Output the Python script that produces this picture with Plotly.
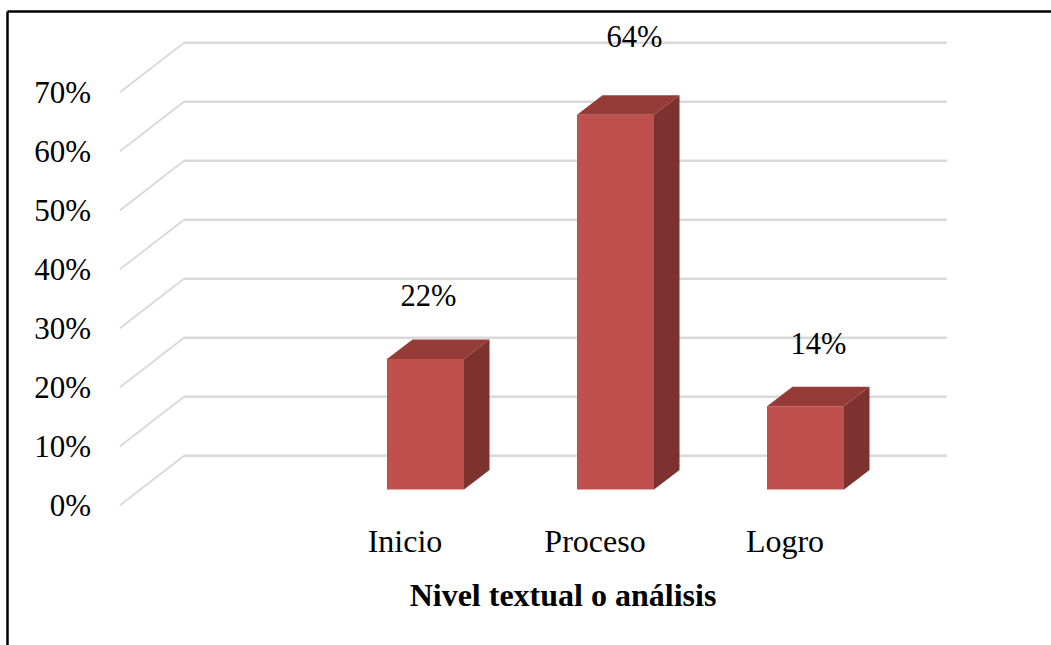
import plotly.graph_objects as go

# --- data ---
categories = ["Inicio", "Proceso", "Logro"]
values = [22.1, 63.5, 14.1]
value_labels = ["22%", "64%", "14%"]
tick_values = [0, 10, 20, 30, 40, 50, 60, 70]
tick_labels = ["0%", "10%", "20%", "30%", "40%", "50%", "60%", "70%"]
axis_title = "Nivel textual o análisis"

# --- geometry (pixels of the 1051x645 page) ---
W, H = 1051, 645
PX_X = 190.0            # pixels per category
PX_Y = 5.9              # pixels per percent
X0_PX = 405.0           # category 0 label centre
Y0_PX = 505.3           # front-plane 0 %
PLOT_L, PLOT_R, PLOT_B = 92.0, 1034.0, 515.0

def ux(px):
    return px / PX_X

def uy(px):
    return px / PX_Y

BAR_SHIFT = ux(20.5)
BAR_W = ux(77)
BAR_BASE = uy(Y0_PX - 489.5)
DEPTH_X = ux(25.5)
DEPTH_Y = uy(19.5)
WALL_DX = ux(64)
WALL_DY = uy(49.5)
WALL_END = (947 - X0_PX) / PX_X
WALL_START = (120 - X0_PX) / PX_X
LABEL_DX_PX = [3, 19, 13]
LABEL_DY_PX = [41, 56, 40]

FRONT, TOP, SIDE = "#C0504D", "#953C39", "#7D3230"
GRID = "#D9D9D9"
FONT = "Liberation Serif"

fig = go.Figure()

idx = list(range(len(categories)))
bar_x = [i + BAR_SHIFT for i in idx]

fig.add_trace(go.Bar(
    x=bar_x, y=values, base=BAR_BASE, width=BAR_W,
    marker=dict(color=FRONT, line=dict(width=0)), hoverinfo="skip",
))

for x, v in zip(bar_x, values):
    l, r = x - BAR_W / 2, x + BAR_W / 2
    b, t = BAR_BASE, BAR_BASE + v
    fig.add_trace(go.Scatter(
        x=[l, r, r + DEPTH_X, l + DEPTH_X, l],
        y=[t, t, t + DEPTH_Y, t + DEPTH_Y, t],
        mode="lines", fill="toself", fillcolor=TOP,
        line=dict(width=0, color=TOP), hoverinfo="skip",
    ))
    fig.add_trace(go.Scatter(
        x=[r, r + DEPTH_X, r + DEPTH_X, r, r],
        y=[b, b + DEPTH_Y, t + DEPTH_Y, t, b],
        mode="lines", fill="toself", fillcolor=SIDE,
        line=dict(width=0, color=SIDE), hoverinfo="skip",
    ))

fig.add_trace(go.Scatter(
    x=[x + ux(dx) for x, dx in zip(bar_x, LABEL_DX_PX)],
    y=[BAR_BASE + v + DEPTH_Y + uy(dy) for v, dy in zip(values, LABEL_DY_PX)],
    mode="text", text=value_labels, textposition="middle center",
    textfont=dict(family=FONT, size=30.5, color="black"),
    cliponaxis=False, hoverinfo="skip",
))

shapes = []
for v in tick_values:
    shapes.append(dict(type="line", layer="below", xref="x", yref="y",
                       x0=WALL_START + WALL_DX, x1=WALL_END,
                       y0=v + WALL_DY, y1=v + WALL_DY,
                       line=dict(color=GRID, width=2.5)))
    shapes.append(dict(type="line", layer="below", xref="x", yref="y",
                       x0=WALL_START, x1=WALL_START + WALL_DX,
                       y0=v, y1=v + WALL_DY,
                       line=dict(color=GRID, width=1.8)))
# page frame
shapes.append(dict(type="line", xref="paper", yref="paper",
                   x0=7.5 / W, x1=1, y0=1 - 11.5 / H, y1=1 - 11.5 / H,
                   line=dict(color="black", width=2.5)))
shapes.append(dict(type="line", xref="paper", yref="paper",
                   x0=7.5 / W, x1=7.5 / W, y0=0, y1=1 - 11.5 / H,
                   line=dict(color="black", width=2.5)))

fig.update_layout(
    width=W, height=H,
    margin=dict(l=0, r=0, t=0, b=0, pad=0),
    paper_bgcolor="white", plot_bgcolor="rgba(0,0,0,0)",
    showlegend=False, shapes=shapes,
    font=dict(family=FONT, size=30, color="black"),
    xaxis=dict(
        domain=[PLOT_L / W, PLOT_R / W],
        range=[(PLOT_L - X0_PX) / PX_X, (PLOT_R - X0_PX) / PX_X],
        tickmode="array", tickvals=idx, ticktext=categories,
        showgrid=False, zeroline=False, showline=False, ticks="",
        tickfont=dict(family=FONT, size=32, color="black"),
        automargin=False, ticklabelstandoff=4,
        title=dict(text="<b>" + axis_title + "</b>", standoff=25.5,
                   font=dict(family=FONT, size=32, color="black")),
    ),
    yaxis=dict(
        domain=[(H - PLOT_B) / H, 1],
        range=[(Y0_PX - PLOT_B) / PX_Y, Y0_PX / PX_Y],
        tickmode="array", tickvals=tick_values, ticktext=tick_labels,
        showgrid=False, zeroline=False, showline=False, ticks="",
        tickfont=dict(family=FONT, size=31, color="black"),
        automargin=False,
    ),
)

fig.write_html("out.html", config={"displayModeBar": False},
               post_script="document.body.style.margin='0';")
